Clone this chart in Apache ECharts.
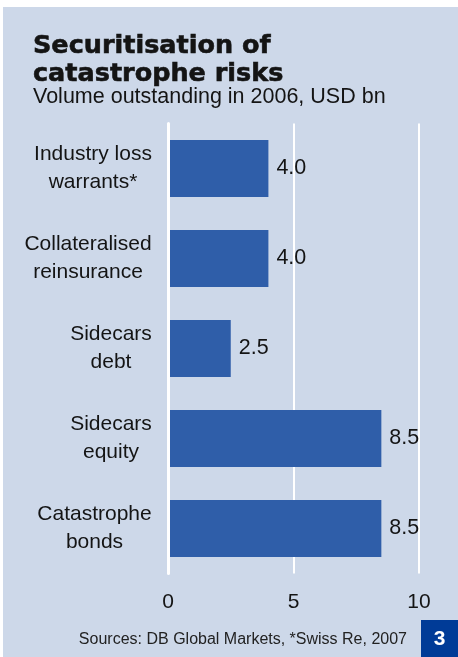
<!DOCTYPE html>
<html>
<head>
<meta charset="utf-8">
<script src="https://cdn.jsdelivr.net/npm/echarts@6/dist/echarts.min.js"></script>
<style>
  html, body { margin: 0; padding: 0; background: #ffffff; }
  #chart { width: 458px; height: 657px; }
</style>
</head>
<body>
<div id="chart"></div>
<script>
// Securitisation of catastrophe risks, volume outstanding in 2006 (USD bn)
const categories = [
  'Industry loss\nwarrants*',
  'Collateralised\nreinsurance',
  'Sidecars\ndebt',
  'Sidecars\nequity',
  'Catastrophe\nbonds'
];
const volumes = [4.0, 4.0, 2.5, 8.5, 8.5];
const xTicks = [0, 5, 10];

const FONT = '"Liberation Sans", Arial, Helvetica, sans-serif';
const TITLE_FONT = '"DejaVu Sans", "Liberation Sans", Arial, sans-serif';
const PANEL = '#cdd8e9';
const BAR = '#2f5ea9';
const INK = '#141414';
const CAT_SIZE = 21;

// Category labels: each two-line block sits flush right against the axis,
// with its lines centred on one another. A rich-text box as wide as the
// longest line does the centring.
const measureCtx = document.createElement('canvas').getContext('2d');
measureCtx.font = CAT_SIZE + 'px ' + FONT;
const catRich = {};
categories.forEach((c, i) => {
  const w = Math.max(...c.split('\n').map(s => measureCtx.measureText(s).width));
  catRich['c' + i] = {
    width: Math.ceil(w), align: 'center',
    fontFamily: FONT, fontSize: CAT_SIZE, lineHeight: 28, color: INK
  };
});

const chart = echarts.init(document.getElementById('chart'), null, { renderer: 'canvas' });

chart.setOption({
  backgroundColor: '#ffffff',
  animation: false,
  graphic: [
    {
      type: 'rect',
      z: -10,
      shape: { x: 3, y: 7, width: 455, height: 650 },
      style: { fill: PANEL }
    },
    {
      type: 'rect',
      z: 10,
      shape: { x: 421, y: 620, width: 37, height: 37 },
      style: { fill: '#003b97' }
    },
    {
      type: 'text',
      z: 11,
      x: 439.5, y: 639,
      style: {
        text: '3', fill: '#ffffff', font: 'bold 21px ' + FONT,
        align: 'center', verticalAlign: 'middle'
      }
    }
  ],
  title: [
    {
      text: 'Securitisation of\ncatastrophe risks',
      left: 28, top: 27,
      textStyle: {
        fontFamily: TITLE_FONT, fontWeight: 'bold', fontSize: 25.5,
        lineHeight: 28, color: INK,
        textBorderColor: INK, textBorderWidth: 0.6
      }
    },
    {
      text: 'Volume outstanding in 2006, USD bn',
      left: 28, top: 81,
      textStyle: { fontFamily: FONT, fontWeight: 'normal', fontSize: 21.5, color: INK }
    },
    {
      text: 'Sources: DB Global Markets, *Swiss Re, 2007',
      right: 46, top: 627,
      textStyle: { fontFamily: FONT, fontWeight: 'normal', fontSize: 16, color: '#222222' }
    }
  ],
  grid: { left: 168, right: 39, top: 123.5, height: 450, containLabel: false },
  xAxis: {
    type: 'value',
    min: xTicks[0],
    max: xTicks[xTicks.length - 1],
    interval: xTicks[1] - xTicks[0],
    axisLine: { show: false },
    axisTick: { show: false },
    axisLabel: { margin: 18, fontFamily: FONT, fontSize: 21, color: INK },
    splitLine: { show: true, lineStyle: { color: '#ffffff', width: 2 } }
  },
  yAxis: {
    type: 'category',
    inverse: true,
    data: categories,
    z: 5,
    axisLine: { show: true, lineStyle: { color: '#ffffff', width: 3 } },
    axisTick: { show: false },
    axisLabel: {
      margin: 16, align: 'right',
      formatter: (value, idx) =>
        value.split('\n').map(s => '{c' + idx + '|' + s + '}').join('\n'),
      rich: catRich
    }
  },
  series: [{
    type: 'bar',
    data: volumes,
    barWidth: 57,
    z: 2,
    itemStyle: { color: BAR },
    label: {
      show: true,
      position: 'right',
      distance: 8,
      fontFamily: FONT,
      fontSize: 21.5,
      color: INK,
      formatter: p => p.value.toFixed(1)
    }
  }]
});
</script>
</body>
</html>
